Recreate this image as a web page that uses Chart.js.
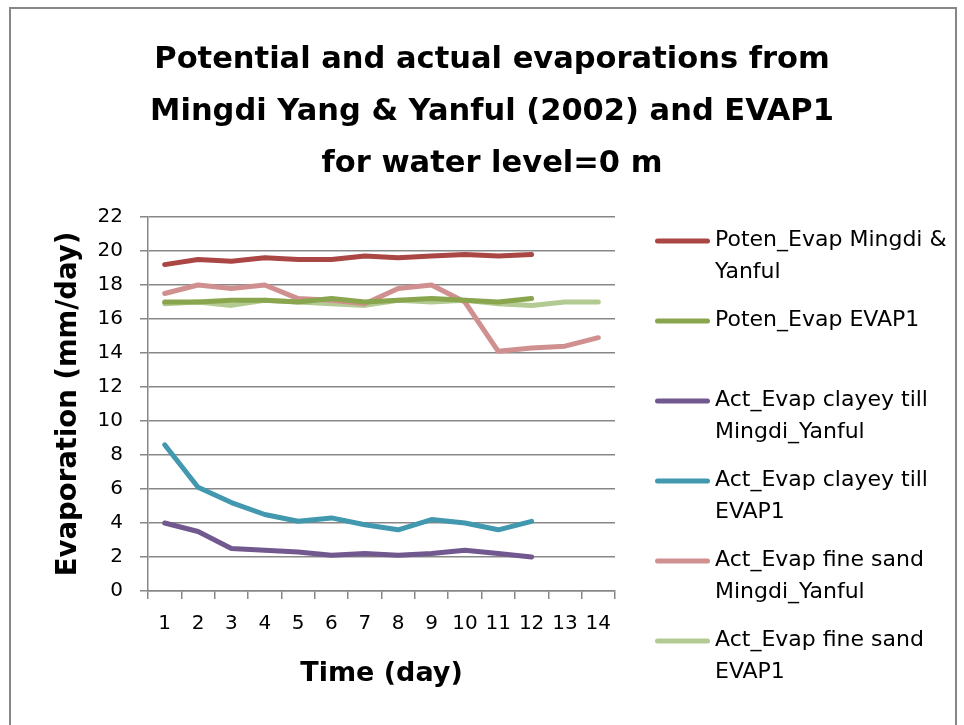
<!DOCTYPE html>
<html>
<head>
<meta charset="utf-8">
<script src="https://cdn.jsdelivr.net/npm/chart.js@4.4.1/dist/chart.umd.min.js"></script>
<style>
  html, body { margin: 0; padding: 0; background: #fff; }
  #wrap { position: relative; width: 964px; height: 725px; }
  #frame { position: absolute; left: 9px; top: 7px; width: 948px; height: 730px; border: 2px solid #878787; box-sizing: border-box; pointer-events: none; }
</style>
</head>
<body>
<div id="wrap">
  <canvas id="c" width="964" height="725"></canvas>
  <div id="frame"></div>
</div>
<script>
const days = ['1', '2', '3', '4', '5', '6', '7', '8', '9', '10', '11', '12', '13', '14'];

const potenMingdi = [19.2, 19.5, 19.4, 19.6, 19.5, 19.5, 19.7, 19.6, 19.7, 19.8, 19.7, 19.8];
const potenEvap1 = [17.0, 17.0, 17.1, 17.1, 17.0, 17.2, 17.0, 17.1, 17.2, 17.1, 17.0, 17.2];
const actClayMingdi = [4.0, 3.5, 2.5, 2.4, 2.3, 2.1, 2.2, 2.1, 2.2, 2.4, 2.2, 2.0];
const actClayEvap1 = [8.6, 6.1, 5.2, 4.5, 4.1, 4.3, 3.9, 3.6, 4.2, 4.0, 3.6, 4.1];
const actSandMingdi = [17.5, 18.0, 17.8, 18.0, 17.2, 17.1, 16.9, 17.8, 18.0, 17.0, 14.1, 14.3, 14.4, 14.9];
const actSandEvap1 = [16.9, 17.0, 16.8, 17.1, 17.0, 16.9, 16.8, 17.1, 17.0, 17.1, 16.9, 16.8, 17.0, 17.0];

const titleLines = [
  'Potential and actual evaporations from',
  'Mingdi Yang & Yanful (2002) and EVAP1',
  'for water level=0 m'
];

const FONT = '"DejaVu Sans", sans-serif';

function series(label, lines, data, color) {
  return {
    label: label,
    legendLines: lines,
    data: data,
    borderColor: color,
    backgroundColor: color,
    borderWidth: 5,
    pointRadius: 0,
    pointHoverRadius: 0,
    tension: 0,
    borderCapStyle: 'round',
    borderJoinStyle: 'round',
    fill: false
  };
}

// chart title and the two-line legend are drawn by hand
const textPlugin = {
  id: 'textPlugin',
  afterDraw(chart) {
    const ctx = chart.ctx;
    ctx.save();
    ctx.fillStyle = '#000';
    ctx.textAlign = 'center';
    ctx.textBaseline = 'alphabetic';
    ctx.font = 'bold 30.5px ' + FONT;
    titleLines.forEach((t, i) => ctx.fillText(t, 492, 68 + i * 52));

    ctx.textAlign = 'left';
    ctx.textBaseline = 'middle';
    ctx.font = '22px ' + FONT;
    chart.data.datasets.forEach((ds, i) => {
      const y = 241 + i * 80;
      ctx.strokeStyle = ds.borderColor;
      ctx.lineWidth = 5;
      ctx.lineCap = 'round';
      ctx.beginPath();
      ctx.moveTo(657.5, y);
      ctx.lineTo(707.5, y);
      ctx.stroke();
      ds.legendLines.forEach((t, j) => ctx.fillText(t, 715, y - 1 + j * 32));
    });
    ctx.restore();
  }
};

new Chart(document.getElementById('c'), {
  type: 'line',
  data: {
    labels: days,
    datasets: [
      series('Poten_Evap Mingdi & Yanful', ['Poten_Evap Mingdi &', 'Yanful'], potenMingdi, '#AA4643'),
      series('Poten_Evap EVAP1', ['Poten_Evap EVAP1'], potenEvap1, '#89A54E'),
      series('Act_Evap clayey till Mingdi_Yanful', ['Act_Evap clayey till', 'Mingdi_Yanful'], actClayMingdi, '#71588F'),
      series('Act_Evap clayey till EVAP1', ['Act_Evap clayey till', 'EVAP1'], actClayEvap1, '#4198AF'),
      series('Act_Evap fine sand Mingdi_Yanful', ['Act_Evap fine sand', 'Mingdi_Yanful'], actSandMingdi, '#D09090'),
      series('Act_Evap fine sand EVAP1', ['Act_Evap fine sand', 'EVAP1'], actSandEvap1, '#B3CB92')
    ]
  },
  options: {
    responsive: false,
    animation: false,
    layout: { padding: { top: 217, left: 0, right: 349, bottom: 0 } },
    plugins: {
      legend: { display: false },
      title: { display: false },
      tooltip: { enabled: false }
    },
    scales: {
      x: {
        offset: true,
        afterFit(scale) { scale.height = 134; },
        grid: { offset: true, drawOnChartArea: false, color: '#878787', lineWidth: 1.5, tickLength: 8 },
        border: { color: '#878787', width: 1.5 },
        ticks: { color: '#000', font: { family: FONT, size: 20 }, padding: 13, maxRotation: 0, autoSkip: false },
        title: { display: true, text: 'Time (day)', color: '#000', font: { family: FONT, size: 27, weight: 'bold' }, padding: { top: 0, bottom: 35 } }
      },
      y: {
        min: 0,
        max: 22,
        afterFit(scale) { scale.width = 148; },
        grid: { color: '#878787', lineWidth: 1.5, tickLength: 8 },
        border: { color: '#878787', width: 1.5 },
        ticks: { stepSize: 2, color: '#000', font: { family: FONT, size: 20 }, padding: 17 },
        title: { display: true, text: 'Evaporation (mm/day)', color: '#000', font: { family: FONT, size: 27.5, weight: 'bold' }, padding: { top: 52, bottom: 0 } }
      }
    }
  },
  plugins: [textPlugin]
});
</script>
</body>
</html>
